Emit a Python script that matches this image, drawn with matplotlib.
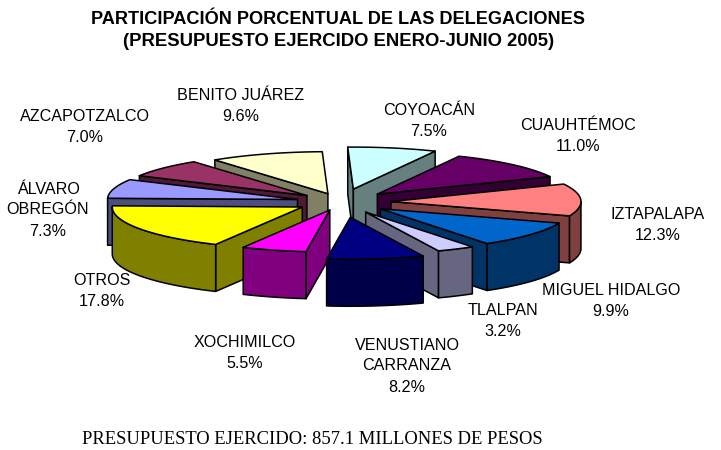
import numpy as np
import matplotlib
matplotlib.use('Agg')
import matplotlib.pyplot as plt
from matplotlib.patches import Polygon

# data, clockwise from the top
names = ['COYOACÁN', 'CUAUHTÉMOC', 'IZTAPALAPA', 'MIGUEL HIDALGO', 'TLALPAN',
         'VENUSTIANO\nCARRANZA', 'XOCHIMILCO', 'OTROS', 'ÁLVARO\nOBREGÓN',
         'AZCAPOTZALCO', 'BENITO JUÁREZ']
values = [7.5, 11.0, 12.3, 9.9, 3.2, 8.2, 5.5, 17.8, 7.3, 7.0, 9.6]

# styles
top_colors = ['#CCFFFF', '#660066', '#FF8080', '#0066CC', '#CCCCFF', '#000080',
              '#FF00FF', '#FFFF00', '#9999FF', '#993366', '#FFFFCC']
side_colors = ['#668080', '#330033', '#804040', '#003366', '#666680', '#000048',
               '#800080', '#808000', '#4D4D80', '#4D1933', '#808066']
explode = [60, 51, 50, 50, 52, 70, 38, 45, 45, 45, 40]
label_pos = [(429, 121), (578, 136), (658, 225), (611, 301), (503, 321), (407, 366),
             (245, 353), (102, 291), (48, 210), (85, 127), (241, 106)]

title_lines = ['PARTICIPACIÓN PORCENTUAL DE LAS DELEGACIONES',
               '(PRESUPUESTO EJERCIDO ENERO-JUNIO 2005)']
footer = 'PRESUPUESTO EJERCIDO: 857.1 MILLONES DE PESOS'

# pie geometry in pixels
cx, cy = 341, 202
rx, ry = 190, 42
squash = 0.22
depth = 47
start_angle = -1.7


def point(x0, y0, ang):
    # ang is degrees clockwise from the top
    r = np.radians(ang)
    return x0 + rx * np.sin(r), y0 - ry * np.cos(r)


def add_face(ax, pts, color, z):
    ax.add_patch(Polygon(pts, closed=True, facecolor=color, edgecolor='black',
                         linewidth=1.1, joinstyle='round', zorder=z))


fig = plt.figure(figsize=(7.21, 4.5), dpi=100)
ax = fig.add_axes([0, 0, 1, 1])
ax.set_xlim(0, 721)
ax.set_ylim(450, 0)
ax.axis('off')

bounds = start_angle + np.concatenate([[0], np.cumsum(values)]) / sum(values) * 360

# back slices first so that the front ones cover them
mids = (bounds[:-1] + bounds[1:]) / 2
order = np.argsort(-np.cos(np.radians(mids)))

for z, i in enumerate(order):
    a0, a1 = bounds[i], bounds[i + 1]
    m = np.radians(mids[i])
    x0 = cx + explode[i] * np.sin(m)
    y0 = cy - explode[i] * np.cos(m) * squash
    base = z * 10 + 1

    # cut faces that look towards the viewer
    for ang, visible in ((a0, np.sin(np.radians(a0)) < 0), (a1, np.sin(np.radians(a1)) > 0)):
        if visible:
            px, py = point(x0, y0, ang)
            add_face(ax, [(x0, y0), (px, py), (px, py + depth), (x0, y0 + depth)],
                     side_colors[i], base)

    # outer wall, front half of the ellipse only
    lo, hi = max(a0, 90), min(a1, 270)
    if hi > lo:
        ang = np.linspace(lo, hi, 40)
        px, py = point(x0, y0, ang)
        wall = list(zip(px, py)) + list(zip(px[::-1], py[::-1] + depth))
        add_face(ax, wall, side_colors[i], base + 1)

    # top of the slice
    ang = np.linspace(a0, a1, 60)
    px, py = point(x0, y0, ang)
    add_face(ax, [(x0, y0)] + list(zip(px, py)), top_colors[i], base + 2)

for name, v, (lx, ly) in zip(names, values, label_pos):
    ax.text(lx, ly, f'{name}\n{v:.1f}%', ha='center', va='center', fontsize=11.6,
            family='Liberation Sans', color='black', linespacing=1.5, zorder=500)

ax.text(338, 20, title_lines[0], ha='center', va='center', fontsize=13.1, fontweight='bold',
        family='Liberation Sans')
ax.text(339, 42, title_lines[1], ha='center', va='center', fontsize=13.3, fontweight='bold',
        family='Liberation Sans')
ax.text(312, 440, footer, ha='center', va='center', fontsize=13.4,
        family='Liberation Serif')

fig.savefig('out.png', dpi=100)
